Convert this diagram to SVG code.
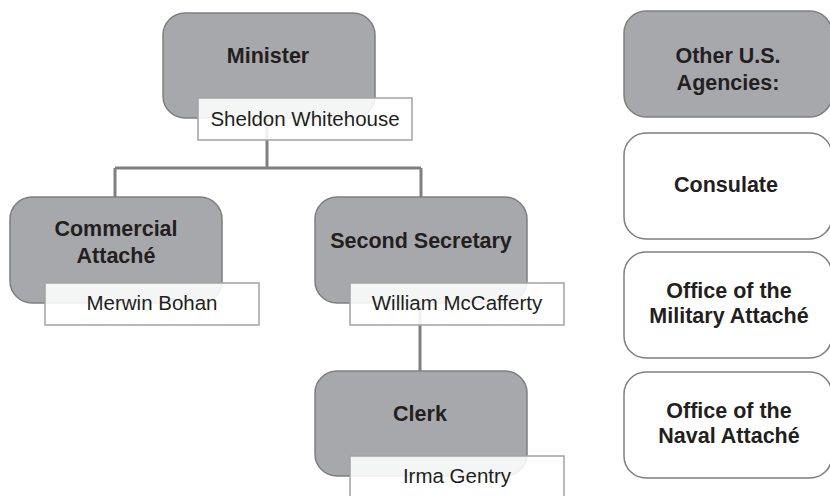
<svg xmlns="http://www.w3.org/2000/svg" width="830" height="496" viewBox="0 0 830 496">
<style>
.role{fill:#a7a8ab;stroke:#7f7f81;stroke-width:1.5}
.agency{fill:#ffffff;stroke:#7f7f81;stroke-width:1.5}
.name{fill:#ffffff;fill-opacity:0.88;stroke:#a3a3a5;stroke-width:1.5}
.b{font-family:"Liberation Sans",Arial,sans-serif;font-weight:bold;font-size:21.5px;fill:#231f20;text-anchor:middle}
.r{font-family:"Liberation Sans",Arial,sans-serif;font-size:20.5px;fill:#231f20;text-anchor:middle}
.conn{fill:none;stroke:#808082;stroke-width:3}
</style>
<rect width="830" height="496" fill="#ffffff"/>
<g id="connectors">
<path class="conn" d="M267 118 V168 M115 168 H421 M115 168 V197 M421 168 V197 M420 303 V371"/>
</g>
<g id="minister">
<rect class="role" x="163" y="13" width="212" height="105" rx="22"/>
<text class="b" x="268" y="63">Minister</text>
<rect class="name" x="198" y="98" width="214" height="42"/>
<text class="r" x="305" y="126">Sheldon Whitehouse</text>
</g>
<g id="commercial">
<rect class="role" x="10" y="197" width="212" height="106" rx="22"/>
<text class="b" x="116" y="236">Commercial</text>
<text class="b" x="116" y="263">Attaché</text>
<rect class="name" x="45" y="283" width="214" height="42"/>
<text class="r" x="152" y="310">Merwin Bohan</text>
</g>
<g id="secretary">
<rect class="role" x="315" y="197" width="212" height="106" rx="22"/>
<text class="b" x="421" y="248">Second Secretary</text>
<rect class="name" x="350" y="283" width="214" height="42"/>
<text class="r" x="457" y="310">William McCafferty</text>
</g>
<g id="clerk">
<rect class="role" x="315" y="371" width="212" height="105" rx="22"/>
<text class="b" x="420" y="421">Clerk</text>
<rect class="name" x="350" y="456" width="214" height="42"/>
<text class="r" x="457" y="483">Irma Gentry</text>
</g>
<g id="agencies">
<rect class="role" x="624" y="11" width="208" height="106" rx="22"/>
<text class="b" x="728" y="63">Other U.S.</text>
<text class="b" x="728" y="90">Agencies:</text>
</g>
<g id="consulate">
<rect class="agency" x="624" y="133" width="208" height="106" rx="22"/>
<text class="b" x="726" y="192">Consulate</text>
</g>
<g id="military">
<rect class="agency" x="624" y="252" width="208" height="106" rx="22"/>
<text class="b" x="729" y="298">Office of the</text>
<text class="b" x="729" y="323">Military Attaché</text>
</g>
<g id="naval">
<rect class="agency" x="624" y="372" width="208" height="106" rx="22"/>
<text class="b" x="729" y="418">Office of the</text>
<text class="b" x="729" y="443">Naval Attaché</text>
</g>
</svg>
